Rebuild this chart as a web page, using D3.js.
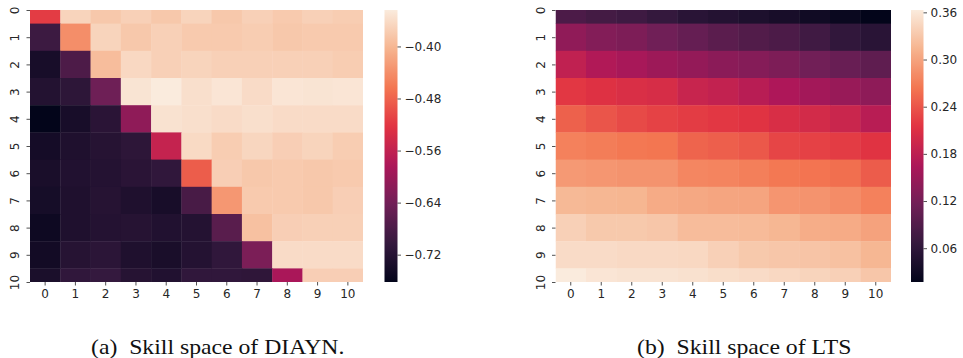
<!DOCTYPE html>
<html>
<head>
<meta charset="utf-8">
<script src="https://cdn.jsdelivr.net/npm/d3@7"></script>
<style>
  html, body { margin: 0; padding: 0; background: #fff; }
  svg { display: block; }
  .tick-label { font-family: "DejaVu Sans", sans-serif; font-size: 12px; fill: #262626; }
  .caption { font-family: "Liberation Serif", "Times New Roman", serif; font-size: 21px; fill: #111; }
</style>
</head>
<body>
<svg id="chart" width="963" height="358"></svg>
<script>
// Skill indices on both axes
const skills = [0, 1, 2, 3, 4, 5, 6, 7, 8, 9, 10];

// Skill space of DIAYN (rows = skill i, columns = skill j)
const diaynValues = [
  [-0.515, -0.369, -0.382, -0.373, -0.382, -0.369, -0.382, -0.373, -0.380, -0.373, -0.377],
  [-0.695, -0.440, -0.369, -0.382, -0.373, -0.380, -0.380, -0.377, -0.382, -0.380, -0.380],
  [-0.737, -0.678, -0.394, -0.365, -0.373, -0.369, -0.373, -0.373, -0.373, -0.373, -0.377],
  [-0.724, -0.712, -0.645, -0.352, -0.344, -0.357, -0.350, -0.361, -0.350, -0.352, -0.350],
  [-0.762, -0.737, -0.716, -0.612, -0.354, -0.357, -0.361, -0.357, -0.361, -0.361, -0.361],
  [-0.741, -0.729, -0.720, -0.712, -0.557, -0.363, -0.377, -0.367, -0.375, -0.369, -0.377],
  [-0.735, -0.726, -0.722, -0.716, -0.708, -0.486, -0.375, -0.382, -0.380, -0.382, -0.380],
  [-0.739, -0.729, -0.720, -0.729, -0.737, -0.683, -0.432, -0.380, -0.380, -0.382, -0.375],
  [-0.749, -0.729, -0.722, -0.720, -0.726, -0.722, -0.666, -0.390, -0.375, -0.373, -0.373],
  [-0.743, -0.720, -0.714, -0.729, -0.735, -0.722, -0.708, -0.632, -0.361, -0.361, -0.361],
  [-0.733, -0.708, -0.703, -0.720, -0.726, -0.708, -0.708, -0.710, -0.586, -0.375, -0.375]
];

// Skill space of LTS
const ltsValues = [
  [0.086, 0.079, 0.074, 0.065, 0.055, 0.050, 0.043, 0.038, 0.031, 0.024, 0.017],
  [0.142, 0.131, 0.126, 0.116, 0.107, 0.098, 0.091, 0.086, 0.076, 0.062, 0.055],
  [0.183, 0.169, 0.161, 0.152, 0.145, 0.138, 0.133, 0.126, 0.117, 0.109, 0.102],
  [0.218, 0.212, 0.207, 0.204, 0.190, 0.185, 0.176, 0.166, 0.157, 0.148, 0.140],
  [0.249, 0.240, 0.232, 0.226, 0.221, 0.218, 0.214, 0.206, 0.200, 0.192, 0.176],
  [0.273, 0.270, 0.266, 0.264, 0.251, 0.247, 0.242, 0.228, 0.225, 0.221, 0.214],
  [0.292, 0.290, 0.287, 0.287, 0.277, 0.275, 0.271, 0.266, 0.263, 0.259, 0.245],
  [0.318, 0.316, 0.315, 0.306, 0.304, 0.302, 0.301, 0.289, 0.287, 0.282, 0.273],
  [0.339, 0.332, 0.332, 0.330, 0.321, 0.321, 0.320, 0.316, 0.308, 0.306, 0.299],
  [0.349, 0.349, 0.347, 0.347, 0.346, 0.339, 0.332, 0.330, 0.328, 0.325, 0.316],
  [0.363, 0.358, 0.356, 0.356, 0.354, 0.351, 0.349, 0.346, 0.342, 0.339, 0.330]
];

// Colour bar tick values
const diaynTicks = [-0.40, -0.48, -0.56, -0.64, -0.72];
const ltsTicks = [0.06, 0.12, 0.18, 0.24, 0.30, 0.36];

// Panel captions
const captions = ["(a) Skill space of DIAYN.", "(b) Skill space of LTS"];

// "rocket" colour ramp anchors
const rocketStops = ["#03051a", "#35193e", "#701f57", "#ad1759", "#e13342", "#f37651", "#f6b48f", "#faebdd"];
const rocket = d3.piecewise(d3.interpolateRgb, rocketStops);

const svg = d3.select("#chart");
const defs = svg.append("defs");

const panels = [
  { id: "a", values: diaynValues, ticks: diaynTicks, caption: captions[0],
    x0: 30, x1: 363, cb0: 384.5, cb1: 397.5, capX: 91 },
  { id: "b", values: ltsValues, ticks: ltsTicks, caption: captions[1],
    x0: 555.5, x1: 891, cb0: 911, cb1: 923.5, capX: 637 }
];

const plotTop = 10, plotBottom = 282;

function styleAxis(sel) {
  sel.select(".domain").remove();
  sel.selectAll(".tick line").attr("stroke", "#262626").attr("stroke-width", 0.8);
  sel.selectAll(".tick text").attr("class", "tick-label")
    .attr("font-size", null).attr("font-family", null).attr("fill", null);
}

panels.forEach(p => {
  const g = svg.append("g");
  const ext = d3.extent(p.values.flat());
  const color = d3.scaleSequential(rocket).domain(ext);

  const x = d3.scaleBand().domain(skills).range([p.x0, p.x1]);
  // Row axis shows the half-row at each end (limits 0.5 .. 10.5)
  const y = d3.scaleLinear().domain([0.5, skills.length - 0.5]).range([plotTop, plotBottom]);
  const rowH = y(1) - y(0);

  const clipId = "clip-" + p.id;
  defs.append("clipPath").attr("id", clipId)
    .append("rect").attr("x", p.x0).attr("y", plotTop)
    .attr("width", p.x1 - p.x0).attr("height", plotBottom - plotTop);

  const cells = [];
  p.values.forEach((row, i) => row.forEach((v, j) => cells.push({ i, j, v })));

  g.append("g").attr("clip-path", `url(#${clipId})`)
    .selectAll("rect").data(cells).join("rect")
    .attr("x", d => x(d.j))
    .attr("y", d => y(d.i))
    .attr("width", x.bandwidth() + 0.4)
    .attr("height", rowH + 0.4)
    .attr("fill", d => color(d.v));

  // x axis
  const xAxis = g.append("g").attr("transform", `translate(0,${plotBottom})`)
    .call(d3.axisBottom(x).tickSize(3.5).tickPadding(3.5));
  styleAxis(xAxis);

  // y axis with rotated labels at row centres
  const yAxis = g.append("g").attr("transform", `translate(${p.x0},0)`)
    .call(d3.axisLeft(y).tickValues(skills.map(s => s + 0.5)).tickFormat(d => String(d - 0.5))
      .tickSize(3.5).tickPadding(3.5));
  styleAxis(yAxis);
  yAxis.selectAll(".tick text")
    .attr("x", -15).attr("y", 0).attr("dy", null)
    .attr("text-anchor", "middle")
    .attr("dominant-baseline", "central")
    .attr("transform", "rotate(-90,-15,0)");

  // colour bar
  const gradId = "grad-" + p.id;
  const grad = defs.append("linearGradient").attr("id", gradId)
    .attr("x1", 0).attr("y1", 1).attr("x2", 0).attr("y2", 0);
  d3.range(0, 1.0001, 1 / 64).forEach(t => {
    grad.append("stop").attr("offset", t).attr("stop-color", rocket(t));
  });
  g.append("rect").attr("x", p.cb0).attr("y", plotTop)
    .attr("width", p.cb1 - p.cb0).attr("height", plotBottom - plotTop)
    .attr("fill", `url(#${gradId})`);

  const cbScale = d3.scaleLinear().domain(ext).range([plotBottom, plotTop]);
  const cbAxis = g.append("g").attr("transform", `translate(${p.cb1},0)`)
    .call(d3.axisRight(cbScale).tickValues(p.ticks).tickFormat(d3.format(".2f"))
      .tickSize(3.5).tickPadding(3.5));
  styleAxis(cbAxis);

  // caption, slightly wide set
  svg.append("text").attr("class", "caption")
    .attr("transform", `translate(${p.capX},354) scale(1.13,1)`)
    .text(p.caption.replace(") ", ")\u00a0 "));
});
</script>
</body>
</html>
